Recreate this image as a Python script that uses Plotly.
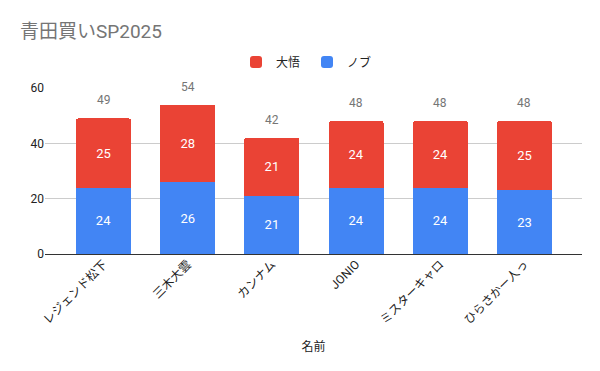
import plotly.graph_objects as go

names = ["レジェンド松下", "三木大雲", "カンナム", "JONIO", "ミスターキャロ", "ひらさかー人っ"]
daigo = [25, 28, 21, 24, 24, 25]
nobu = [24, 26, 21, 24, 24, 23]
totals = [49, 54, 42, 48, 48, 48]

FONT = "Roboto, 'Noto Sans CJK JP', sans-serif"
RED = "#EA4335"
BLUE = "#4285F4"

fig = go.Figure()
fig.add_trace(go.Bar(
    x=names, y=nobu, name="ノブ", marker=dict(color=BLUE, line=dict(width=0)),
    text=[str(v) for v in nobu], textposition="inside", insidetextanchor="middle",
    textfont=dict(color="white", size=13, family=FONT), width=0.655,
))
fig.add_trace(go.Bar(
    x=names, y=daigo, name="大悟", marker=dict(color=RED, line=dict(width=0)),
    text=[str(v) for v in daigo], textposition="inside", insidetextanchor="middle",
    textfont=dict(color="white", size=13, family=FONT), width=0.655,
))

for n, t in zip(names, totals):
    fig.add_annotation(x=n, y=t, text=str(t), showarrow=False, yanchor="bottom",
                       yshift=10, font=dict(size=12, color="#757575", family=FONT),
                       bgcolor="white", borderpad=0)

plot_h = 371 - 88 - 117

fig.update_layout(
    barmode="stack",
    barcornerradius=2,
    width=600, height=371,
    margin=dict(l=45, r=18, t=88, b=117, autoexpand=False),
    paper_bgcolor="white", plot_bgcolor="white",
    font=dict(family=FONT, color="#222222", size=12),
    title=dict(text="青田買いSP2025", x=20/600, xanchor="left", y=1-31/371, yanchor="middle",
               xref="container", yref="container",
               font=dict(size=19, color="#757575", family=FONT)),
    legend=dict(orientation="h", x=(250 - 45 - 14) / 537, xanchor="left",
                y=1 + (88 - 62) / plot_h, yanchor="middle",
                traceorder="reversed", entrywidth=26, entrywidthmode="pixels",
                font=dict(size=12, color="#222222", family=FONT), itemwidth=30),
    showlegend=True,
    xaxis=dict(range=[-0.695, 5.683], tickangle=-45, showgrid=False, automargin=False,
               tickfont=dict(size=12, color="#222222", family=FONT),
               title=dict(text="名前", font=dict(size=12, color="#222222", family=FONT), standoff=16),
               showline=False, ticks=""),
    yaxis=dict(range=[0, 60], tickvals=[0, 20, 40, 60], showgrid=True, gridcolor="#cccccc",
               zeroline=True, zerolinecolor="#333333", zerolinewidth=1, automargin=False,
               tickfont=dict(size=12, color="#222222", family=FONT), ticks="", showline=False),
)

fig.write_html("out.html", config={"displayModeBar": False},
               post_script="document.body.style.margin='0';")
